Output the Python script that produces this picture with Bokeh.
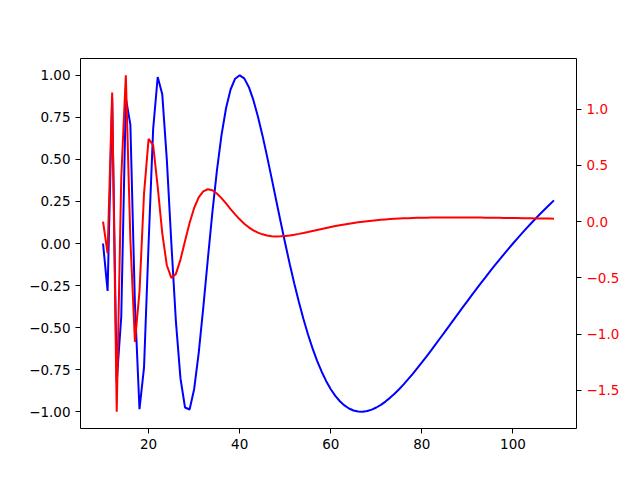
from bokeh.plotting import figure
from bokeh.models import LinearAxis, Range1d, FixedTicker, CustomJSTickFormatter
from bokeh.embed import file_html
from bokeh.resources import INLINE

# x positions and the two series
x = list(range(10, 110))

y_blue = [
    0.0, -0.28174, 0.86603, -0.82298, -0.43388, 0.86603, 0.70711, -0.36125, -0.98481, -0.73570,
    0.0, 0.68017, 0.98982, 0.88788, 0.5, 0.0, -0.46472, -0.80213, -0.97493, -0.98683,
    -0.86603, -0.65137, -0.38268, -0.09506, 0.18375, 0.43388, 0.64279, 0.80400, 0.91576, 0.97979,
    1.0, 0.98171, 0.93088, 0.85359, 0.75575, 0.64279, 0.51958, 0.39039, 0.25882, 0.12788,
    0.0, -0.12289, -0.23932, -0.34820, -0.44880, -0.54065, -0.62350, -0.69731, -0.76216, -0.81831,
    -0.86603, -0.90570, -0.93775, -0.96263, -0.98079, -0.99271, -0.99887, -0.99973, -0.99573, -0.98733,
    -0.97493, -0.95892, -0.93969, -0.91758, -0.89293, -0.86603, -0.83719, -0.80661, -0.77460, -0.74137,
    -0.70711, -0.67202, -0.63625, -0.59998, -0.56332, -0.52644, -0.48943, -0.45239, -0.41542, -0.37860,
    -0.34202, -0.30573, -0.26979, -0.23426, -0.19919, -0.16460, -0.13053, -0.09701, -0.06407, -0.03173,
    0.0, 0.03110, 0.06156, 0.09137, 0.12054, 0.14904, 0.17689, 0.20409, 0.23062, 0.25651,
]

y_red = [
    0.0, -0.28174, 1.14777, -1.68901, 0.38910, 1.29991, -0.15892, -1.06836, -0.62356, 0.24911,
    0.73570, 0.68017, 0.30965, -0.10194, -0.38788, -0.5, -0.46472, -0.33741, -0.17280, -0.01190,
    0.12080, 0.21466, 0.26869, 0.28762, 0.27881, 0.25013, 0.20891, 0.16121, 0.11176, 0.06403,
    0.02021, -0.01829, -0.05083, -0.07729, -0.09784, -0.11296, -0.12321, -0.12919, -0.13157, -0.13094,
    -0.12788, -0.12289, -0.11643, -0.10888, -0.10060, -0.09185, -0.08285, -0.07381, -0.06485, -0.05615,
    -0.04772, -0.03967, -0.03205, -0.02488, -0.01816, -0.01192, -0.00616, -0.00086, 0.00400, 0.00840,
    0.01240, 0.01601, 0.01923, 0.02211, 0.02465, 0.02690, 0.02884, 0.03058, 0.03201, 0.03323,
    0.03426, 0.03509, 0.03577, 0.03627, 0.03666, 0.03688, 0.03701, 0.03704, 0.03697, 0.03682,
    0.03658, 0.03629, 0.03594, 0.03553, 0.03507, 0.03459, 0.03407, 0.03352, 0.03294, 0.03234,
    0.03173, 0.03110, 0.03046, 0.02981, 0.02917, 0.02850, 0.02785, 0.02720, 0.02653, 0.02589,
]

x_ticks = [20, 40, 60, 80, 100]
left_ticks = [-1.0, -0.75, -0.5, -0.25, 0.0, 0.25, 0.5, 0.75, 1.0]
right_ticks = [-1.5, -1.0, -0.5, 0.0, 0.5, 1.0]

# ranges with 5% padding like matplotlib
def padded(lo, hi):
    m = (hi - lo) * 0.05
    return lo - m, hi + m

x0, x1 = padded(min(x), max(x))
l0, l1 = padded(min(y_blue), max(y_blue))
r0, r1 = padded(min(y_red), max(y_red))

p = figure(width=624, height=464, output_backend="svg", toolbar_location=None,
           x_range=Range1d(x0, x1), y_range=Range1d(l0, l1),
           min_border_left=80, min_border_right=48, min_border_top=58, min_border_bottom=36)
p.frame_width = 496
p.frame_height = 370
p.extra_y_ranges = {"right": Range1d(r0, r1)}

p.line(x, y_blue, color="blue", line_width=2)
p.line(x, y_red, color="red", line_width=2, y_range_name="right")

right_axis = LinearAxis(y_range_name="right")
p.add_layout(right_axis, "right")

p.grid.visible = False
p.outline_line_color = "black"
p.outline_line_width = 1
p.background_fill_color = "white"
p.border_fill_color = "white"

for ax in [p.xaxis[0], p.yaxis[0], right_axis]:
    ax.axis_line_color = None
    ax.major_tick_in = 0
    ax.major_tick_out = 5
    ax.minor_tick_line_color = None
    ax.major_tick_line_color = "black"
    ax.major_label_standoff = 5
    ax.major_label_text_font = "DejaVu Sans"
    ax.major_label_text_font_size = "13.5px"
    ax.major_label_text_color = "black"

p.xaxis[0].ticker = FixedTicker(ticks=x_ticks)
p.yaxis[0].ticker = FixedTicker(ticks=left_ticks)
right_axis.ticker = FixedTicker(ticks=right_ticks)
right_axis.major_label_text_color = "red"

p.xaxis[0].formatter = CustomJSTickFormatter(code="return (tick < 0 ? '\u2212' : '') + Math.abs(tick).toFixed(0);")
p.yaxis[0].formatter = CustomJSTickFormatter(code="return (tick < 0 ? '\u2212' : '') + Math.abs(tick).toFixed(2);")
right_axis.formatter = CustomJSTickFormatter(code="return (tick < 0 ? '\u2212' : '') + Math.abs(tick).toFixed(1);")

open("out.html", "w").write(file_html(p, INLINE))
